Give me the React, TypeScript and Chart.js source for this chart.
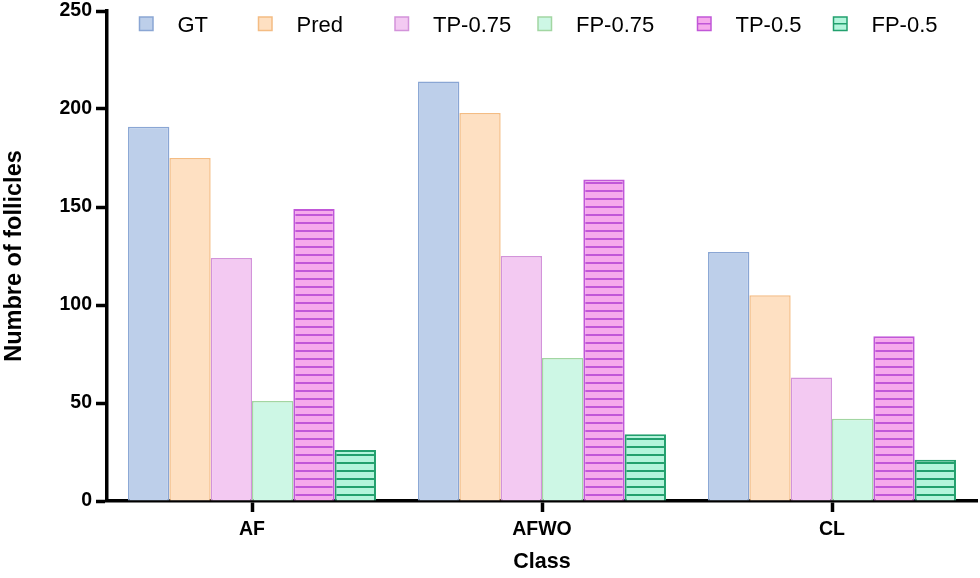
import React, { useEffect, useRef } from "react";
import { Chart, registerables } from "chart.js";

Chart.register(...registerables);

const categories = ["AF", "AFWO", "CL"];
const seriesLabels = ["GT", "Pred", "TP-0.75", "FP-0.75", "TP-0.5", "FP-0.5"];
const gtValues = [191, 214, 127];
const predValues = [175, 198, 105];
const tp075Values = [124, 125, 63];
const fp075Values = [51, 73, 42];
const tp05Values = [149, 164, 84];
const fp05Values = [26, 34, 21];
const yTickValues = [0, 50, 100, 150, 200, 250];

const seriesValues = [gtValues, predValues, tp075Values, fp075Values, tp05Values, fp05Values];

const seriesStyles = [
  { fill: "#bdcfea", border: "#8aa6d4", hatch: "" },
  { fill: "#fee0c2", border: "#f4bc83", hatch: "" },
  { fill: "#f3c9f2", border: "#d393da", hatch: "" },
  { fill: "#cdf7e5", border: "#a2d6a2", hatch: "" },
  { fill: "#f6aaec", border: "#c157d8", hatch: "#c157d8" },
  { fill: "#b3f5dc", border: "#22a06e", hatch: "#22a06e" },
];

const LEGEND_BOX_X = [139.5, 258.5, 395, 538, 697.5, 833.5];
const FONT = "'Liberation Sans', Arial, Helvetica, sans-serif";

function makeHatch(ctx: CanvasRenderingContext2D, fill: string, line: string) {
  const c = document.createElement("canvas");
  c.width = 8;
  c.height = 8;
  const g = c.getContext("2d")!;
  g.fillStyle = fill;
  g.fillRect(0, 0, 8, 8);
  g.fillStyle = line;
  g.fillRect(0, 6, 8, 2);
  return ctx.createPattern(c, "repeat") as CanvasPattern;
}

const legendPlugin = {
  id: "customLegend",
  afterDraw(chart: any) {
    const ctx: CanvasRenderingContext2D = chart.ctx;
    chart.data.datasets.forEach((ds: any, i: number) => {
      const st = seriesStyles[i];
      const x = LEGEND_BOX_X[i];
      const y = 17;
      const s = 13.5;
      ctx.save();
      ctx.fillStyle = st.fill;
      ctx.fillRect(x, y, s, s);
      ctx.strokeStyle = st.border;
      ctx.lineWidth = 1.5;
      ctx.strokeRect(x, y, s, s);
      if (st.hatch) {
        ctx.beginPath();
        ctx.moveTo(x, y + s / 2);
        ctx.lineTo(x + s, y + s / 2);
        ctx.strokeStyle = st.hatch;
        ctx.lineWidth = 1.5;
        ctx.stroke();
      }
      ctx.fillStyle = "#000";
      ctx.font = `22px ${FONT}`;
      ctx.textAlign = "left";
      ctx.textBaseline = "alphabetic";
      ctx.fillText(ds.label, x + 38, 32);
      ctx.restore();
    });
  },
};

export default function App() {
  const ref = useRef<HTMLCanvasElement | null>(null);

  useEffect(() => {
    document.body.style.margin = "0";
    const canvas = ref.current!;
    const ctx = canvas.getContext("2d")!;
    const datasets = seriesLabels.map((label, i) => {
      const st = seriesStyles[i];
      return {
        label,
        data: seriesValues[i],
        backgroundColor: st.hatch ? makeHatch(ctx, st.fill, st.hatch) : st.fill,
        borderColor: st.border,
        borderWidth: st.hatch ? 2 : 1.5,
        categoryPercentage: 0.855,
        barPercentage: 1,
      };
    });

    const chart = new Chart(canvas, {
      type: "bar",
      data: { labels: categories, datasets },
      plugins: [legendPlugin],
      options: {
        animation: false,
        responsive: true,
        maintainAspectRatio: false,
        layout: { padding: { top: 11, right: 3, left: 0, bottom: 0 } },
        plugins: {
          legend: { display: false },
          tooltip: { enabled: false },
        },
        scales: {
          x: {
            type: "category",
            offset: true,
            grid: {
              offset: false,
              drawOnChartArea: false,
              drawTicks: true,
              tickLength: 11,
              tickWidth: 3.5,
              tickColor: "#000",
            },
            border: { display: true, width: 3.5, color: "#000" },
            ticks: {
              color: "#000",
              font: { family: FONT, size: 19.5, weight: "bold" },
              padding: 6,
              maxRotation: 0,
            },
            title: {
              display: true,
              text: "Class",
              color: "#000",
              font: { family: FONT, size: 21.5, weight: "bold" },
              padding: { top: 0, bottom: 3 },
            },
            afterFit: (scale: any) => {
              scale.height = 77;
              scale.paddingLeft = 0;
              scale.paddingRight = 0;
            },
          },
          y: {
            min: 0,
            max: 250,
            grid: {
              drawOnChartArea: false,
              drawTicks: true,
              tickLength: 11,
              tickWidth: 3.5,
              tickColor: "#000",
            },
            border: { display: true, width: 3.5, color: "#000" },
            ticks: {
              color: "#000",
              font: { family: FONT, size: 19.5, weight: "bold" },
              padding: 4,
            },
            afterBuildTicks: (scale: any) => {
              scale.ticks = yTickValues.map((v) => ({ value: v }));
            },
            title: {
              display: true,
              text: "Numbre of follicles",
              color: "#000",
              font: { family: FONT, size: 23.5, weight: "bold" },
              padding: { top: 0, bottom: 0 },
            },
            afterFit: (scale: any) => {
              scale.width = 107;
              scale.paddingTop = 0;
              scale.paddingBottom = 0;
            },
          },
        },
      } as any,
    });
    return () => chart.destroy();
  }, []);

  return (
    <div style={{ width: 980, height: 578, position: "relative" }}>
      <canvas ref={ref} />
    </div>
  );
}
